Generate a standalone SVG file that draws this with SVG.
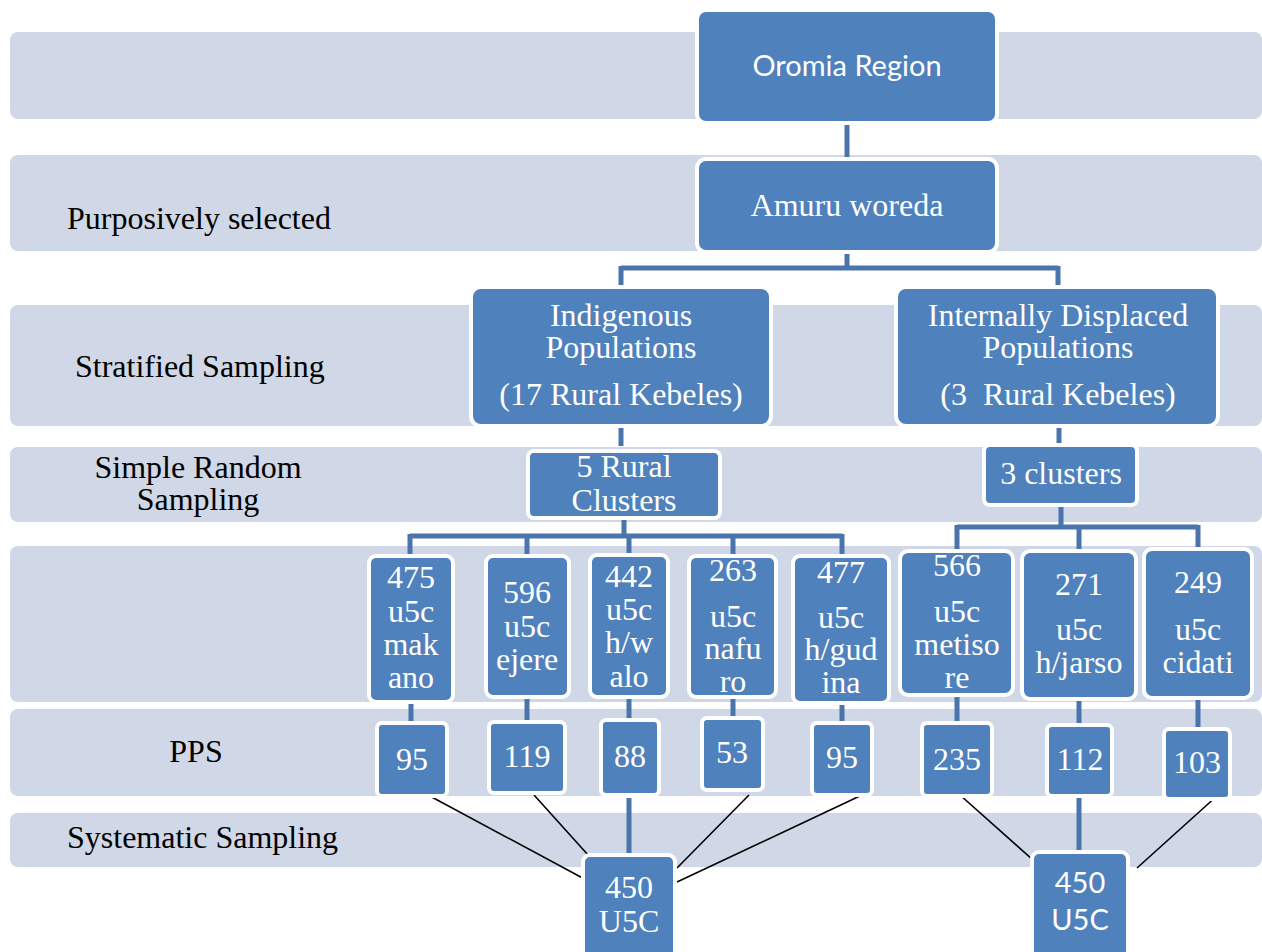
<svg xmlns="http://www.w3.org/2000/svg" width="1262" height="952" viewBox="0 0 1262 952">
<style>
.band{fill:#D0D7E6}
.box{fill:#4F81BD;stroke:#FFFFFF;stroke-width:4}
.lbl{font-family:"Liberation Serif","Times New Roman",serif;font-size:32px;fill:#000}
.t{font-family:"Liberation Serif","Times New Roman",serif;font-size:32px;fill:#FFFFFF;text-anchor:middle}
.ts{font-family:Lato,"Open Sans","Liberation Sans",sans-serif;font-size:29px;fill:#FFFFFF;text-anchor:middle}
.c{stroke:#4A74AC;stroke-width:5;fill:none}
.k{stroke:#000;stroke-width:1.6;fill:none}
</style>
<rect width="1262" height="952" fill="#FFFFFF"/>
<g id="bands">
<rect class="band" x="10" y="32" width="1252" height="87" rx="8"/>
<rect class="band" x="10" y="155" width="1252" height="96" rx="8"/>
<rect class="band" x="10" y="305" width="1252" height="121" rx="8"/>
<rect class="band" x="10" y="447" width="1252" height="75" rx="8"/>
<rect class="band" x="10" y="546" width="1252" height="156" rx="8"/>
<rect class="band" x="10" y="709" width="1252" height="87" rx="8"/>
<rect class="band" x="10" y="813" width="1252" height="54" rx="8"/>
</g>
<g id="labels">
<text class="lbl" x="67" y="229">Purposively selected</text>
<text class="lbl" x="75" y="377">Stratified Sampling</text>
<text class="lbl" x="198" y="478" text-anchor="middle">Simple Random</text>
<text class="lbl" x="198" y="510" text-anchor="middle">Sampling</text>
<text class="lbl" x="196" y="762" text-anchor="middle">PPS</text>
<text class="lbl" x="67" y="848">Systematic Sampling</text>
</g>
<g id="connectors">
<path class="c" d="M847 122V162"/>
<path class="c" d="M847 250V268M621 268H1058M621 266V290M1058 266V290"/>
<path class="c" d="M621 427V446"/>
<path class="c" d="M1059 427V447"/>
<path class="c" d="M624 518V536M410 536H842M410 534V558M527 534V558M629 534V558M733 534V558M842 534V558"/>
<path class="c" d="M1061 505V527M957 527H1198M957 525V552M1079 525V552M1198 525V552"/>
<path class="c" d="M411 700V724M527 696V724M629 696V722M733 696V720M842 700V724M957 694V724M1079 698V726M1198 696V730"/>
<path class="c" d="M629 798V857M1079 798V854"/>
<path class="k" d="M428 795L590 882M534 795L589 856M749 795L677 868M862 795L677 882"/>
<path class="k" d="M960 795L1042 868M1218 795L1137 868"/>
</g>
<g id="n-oromia"><rect class="box" x="697" y="10" width="300" height="113" rx="9"/><text class="ts" x="847" y="76">Oromia Region</text></g>
<g id="n-amuru"><rect class="box" x="697" y="159" width="300" height="93" rx="9"/><text class="t" x="847" y="216">Amuru woreda</text></g>
<g id="n-indigenous"><rect class="box" x="471" y="287" width="300" height="139" rx="10"/><text class="t" x="621" y="326">Indigenous</text><text class="t" x="621" y="358">Populations</text><text class="t" x="621" y="405">(17 Rural Kebeles)</text></g>
<g id="n-idp"><rect class="box" x="896" y="287" width="322" height="139" rx="10"/><text class="t" x="1058" y="326">Internally Displaced</text><text class="t" x="1058" y="358">Populations</text><text class="t" x="1058" y="405" xml:space="preserve">(3  Rural Kebeles)</text></g>
<g id="n-5rural"><rect class="box" x="528" y="451" width="192" height="67" rx="6"/><text class="t" x="624" y="477">5 Rural</text><text class="t" x="624" y="511">Clusters</text></g>
<g id="n-3clusters"><rect class="box" x="984" y="445" width="153" height="60" rx="6"/><text class="t" x="1061" y="484">3 clusters</text></g>
<g id="n-makano"><rect class="box" x="369" y="556" width="84" height="146" rx="7"/><text class="t" x="411" y="588">475</text><text class="t" x="411" y="622">u5c</text><text class="t" x="411" y="655">mak</text><text class="t" x="411" y="688">ano</text></g>
<g id="n-ejere"><rect class="box" x="486" y="556" width="83" height="141" rx="7"/><text class="t" x="527" y="603">596</text><text class="t" x="527" y="637">u5c</text><text class="t" x="527" y="670">ejere</text></g>
<g id="n-hwalo"><rect class="box" x="590" y="555" width="78" height="142" rx="7"/><text class="t" x="629" y="587">442</text><text class="t" x="629" y="620">u5c</text><text class="t" x="629" y="653">h/w</text><text class="t" x="629" y="687">alo</text></g>
<g id="n-nafuro"><rect class="box" x="689" y="556" width="87" height="141" rx="7"/><text class="t" x="733" y="581">263</text><text class="t" x="733" y="627">u5c</text><text class="t" x="733" y="659">nafu</text><text class="t" x="733" y="692">ro</text></g>
<g id="n-hgudina"><rect class="box" x="793" y="556" width="96" height="147" rx="7"/><text class="t" x="841" y="583">477</text><text class="t" x="841" y="628">u5c</text><text class="t" x="841" y="660">h/gud</text><text class="t" x="841" y="693">ina</text></g>
<g id="n-metisore"><rect class="box" x="900" y="551" width="113" height="144" rx="8"/><text class="t" x="957" y="576">566</text><text class="t" x="957" y="622">u5c</text><text class="t" x="957" y="655">metiso</text><text class="t" x="957" y="688">re</text></g>
<g id="n-hjarso"><rect class="box" x="1022" y="551" width="114" height="148" rx="8"/><text class="t" x="1079" y="595">271</text><text class="t" x="1079" y="640">u5c</text><text class="t" x="1079" y="673">h/jarso</text></g>
<g id="n-cidati"><rect class="box" x="1144" y="549" width="108" height="149" rx="8"/><text class="t" x="1198" y="593">249</text><text class="t" x="1198" y="640">u5c</text><text class="t" x="1198" y="673">cidati</text></g>
<g id="n-p95a"><rect class="box" x="377" y="723" width="70" height="73" rx="5"/><text class="t" x="412" y="770">95</text></g>
<g id="n-p119"><rect class="box" x="489" y="722" width="76" height="71" rx="5"/><text class="t" x="527" y="767">119</text></g>
<g id="n-p88"><rect class="box" x="601" y="720" width="58" height="75" rx="5"/><text class="t" x="630" y="767">88</text></g>
<g id="n-p53"><rect class="box" x="702" y="718" width="61" height="72" rx="5"/><text class="t" x="732" y="763">53</text></g>
<g id="n-p95b"><rect class="box" x="812" y="723" width="60" height="72" rx="5"/><text class="t" x="842" y="768">95</text></g>
<g id="n-p235"><rect class="box" x="922" y="723" width="70" height="73" rx="5"/><text class="t" x="957" y="770">235</text></g>
<g id="n-p112"><rect class="box" x="1047" y="725" width="65" height="71" rx="5"/><text class="t" x="1080" y="770">112</text></g>
<g id="n-p103"><rect class="box" x="1164" y="729" width="66" height="70" rx="5"/><text class="t" x="1197" y="773">103</text></g>
<g id="n-total1"><rect class="box" x="583" y="855" width="92" height="110" rx="7"/><text class="t" x="629" y="898">450</text><text class="t" x="629" y="932">U5C</text></g>
<g id="n-total2"><rect class="box" x="1032" y="852" width="96" height="112" rx="7"/><text class="ts" x="1080" y="893">450</text><text class="ts" x="1080" y="930">U5C</text></g>
</svg>
